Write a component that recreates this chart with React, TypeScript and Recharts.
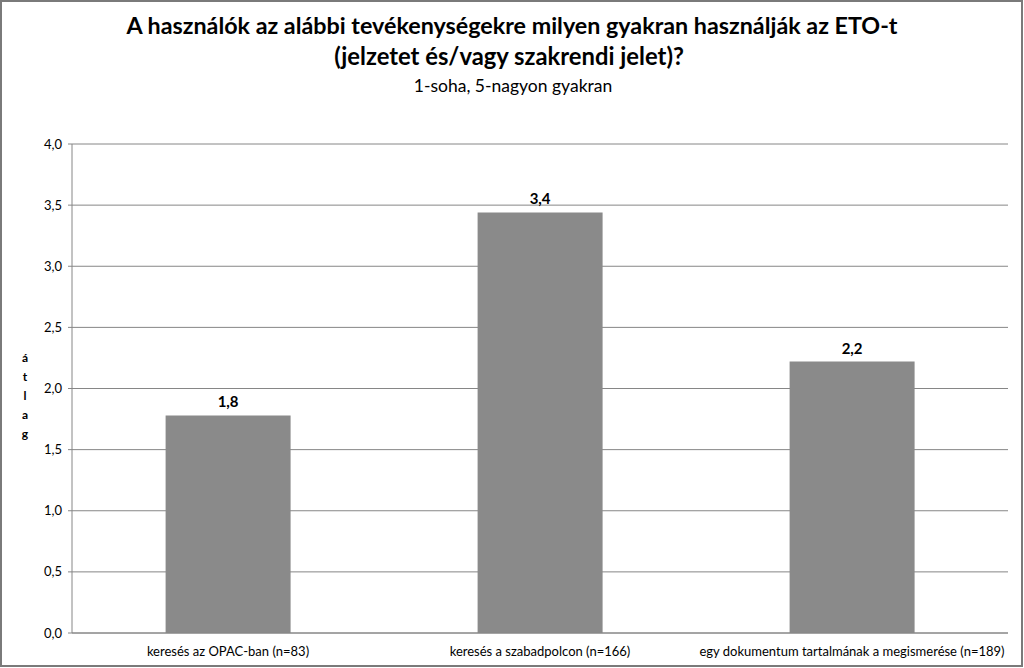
import React from 'react';
import { BarChart, Bar, XAxis, YAxis, CartesianGrid, LabelList } from 'recharts';

const categories = [
  'keresés az OPAC-ban (n=83)',
  'keresés a szabadpolcon (n=166)',
  'egy dokumentum tartalmának a megismerése (n=189)',
];
const averages = [1.78, 3.44, 2.22];
const yTicks = [0, 0.5, 1, 1.5, 2, 2.5, 3, 3.5, 4];
const boundaryTicks = [1, 2];

const title1 = 'A használók az alábbi tevékenységekre milyen gyakran használják az ETO-t';
const title2 = '(jelzetet és/vagy szakrendi jelet)?';
const subtitle = '1-soha, 5-nagyon gyakran';
const axisLetters = ['á', 't', 'l', 'a', 'g'];

const data = categories.map((name, i) => ({ name, value: averages[i] }));

const FONT = "Lato, 'Open Sans', sans-serif";
const GRAY = '#868686';

const comma = (v: number) => v.toFixed(1).replace('.', ',');

const App: React.FC = () => {
  return (
    <div
      style={{
        position: 'absolute',
        left: 0,
        top: 0,
        width: 1024,
        height: 668,
        background: '#fff',
        fontFamily: FONT,
      }}
    >
      <BarChart
        width={1024}
        height={668}
        data={data}
        margin={{ top: 144, right: 16, bottom: 5, left: 0 }}
        barCategoryGap="30%"
      >
        {/* outer frame */}
        <rect x={1} y={1} width={1021} height={665} fill="none" stroke="#7a7a7a" strokeWidth={2} />
        <text x={512} y={34} textAnchor="middle" fontFamily={FONT} fontWeight="bold" fontSize={23.3} fill="#000">
          {title1}
        </text>
        <text x={509} y={65} textAnchor="middle" fontFamily={FONT} fontWeight="bold" fontSize={23.8} fill="#000">
          {title2}
        </text>
        <text x={513} y={92} textAnchor="middle" fontFamily={FONT} fontSize={17.5} fill="#000">
          {subtitle}
        </text>
        <text x={25} y={362} textAnchor="middle" fontFamily={FONT} fontWeight="bold" fontSize={12} fill="#000">
          {axisLetters.map((ch, i) => (
            <tspan key={i} x={25} dy={i === 0 ? 0 : 19}>
              {ch}
            </tspan>
          ))}
        </text>
        <CartesianGrid vertical={false} stroke={GRAY} strokeWidth={1} />
        <XAxis
          dataKey="name"
          height={30}
          axisLine={{ stroke: GRAY }}
          tickLine={false}
          tick={{ fontSize: 13, fill: '#000', fontFamily: FONT }}
          tickMargin={8}
          interval={0}
        />
        <XAxis
          xAxisId="bounds"
          type="number"
          domain={[0, 3]}
          ticks={boundaryTicks}
          height={0}
          axisLine={false}
          tick={false}
          tickSize={5}
          tickLine={{ stroke: GRAY }}
        />
        <YAxis
          width={72}
          domain={[0, 4]}
          ticks={yTicks}
          tickFormatter={comma}
          axisLine={{ stroke: GRAY }}
          tickLine={{ stroke: GRAY }}
          tickSize={4}
          tickMargin={6}
          tick={{ fontSize: 13, fill: '#000', fontFamily: FONT }}
        />
        <Bar dataKey="value" fill="#8a8a8a" isAnimationActive={false}>
          <LabelList
            dataKey="value"
            position="top"
            offset={8}
            formatter={(v: number) => comma(v)}
            style={{ fontSize: 15, fontWeight: 'bold', fill: '#000', fontFamily: FONT }}
          />
        </Bar>
      </BarChart>
    </div>
  );
};

export default App;
